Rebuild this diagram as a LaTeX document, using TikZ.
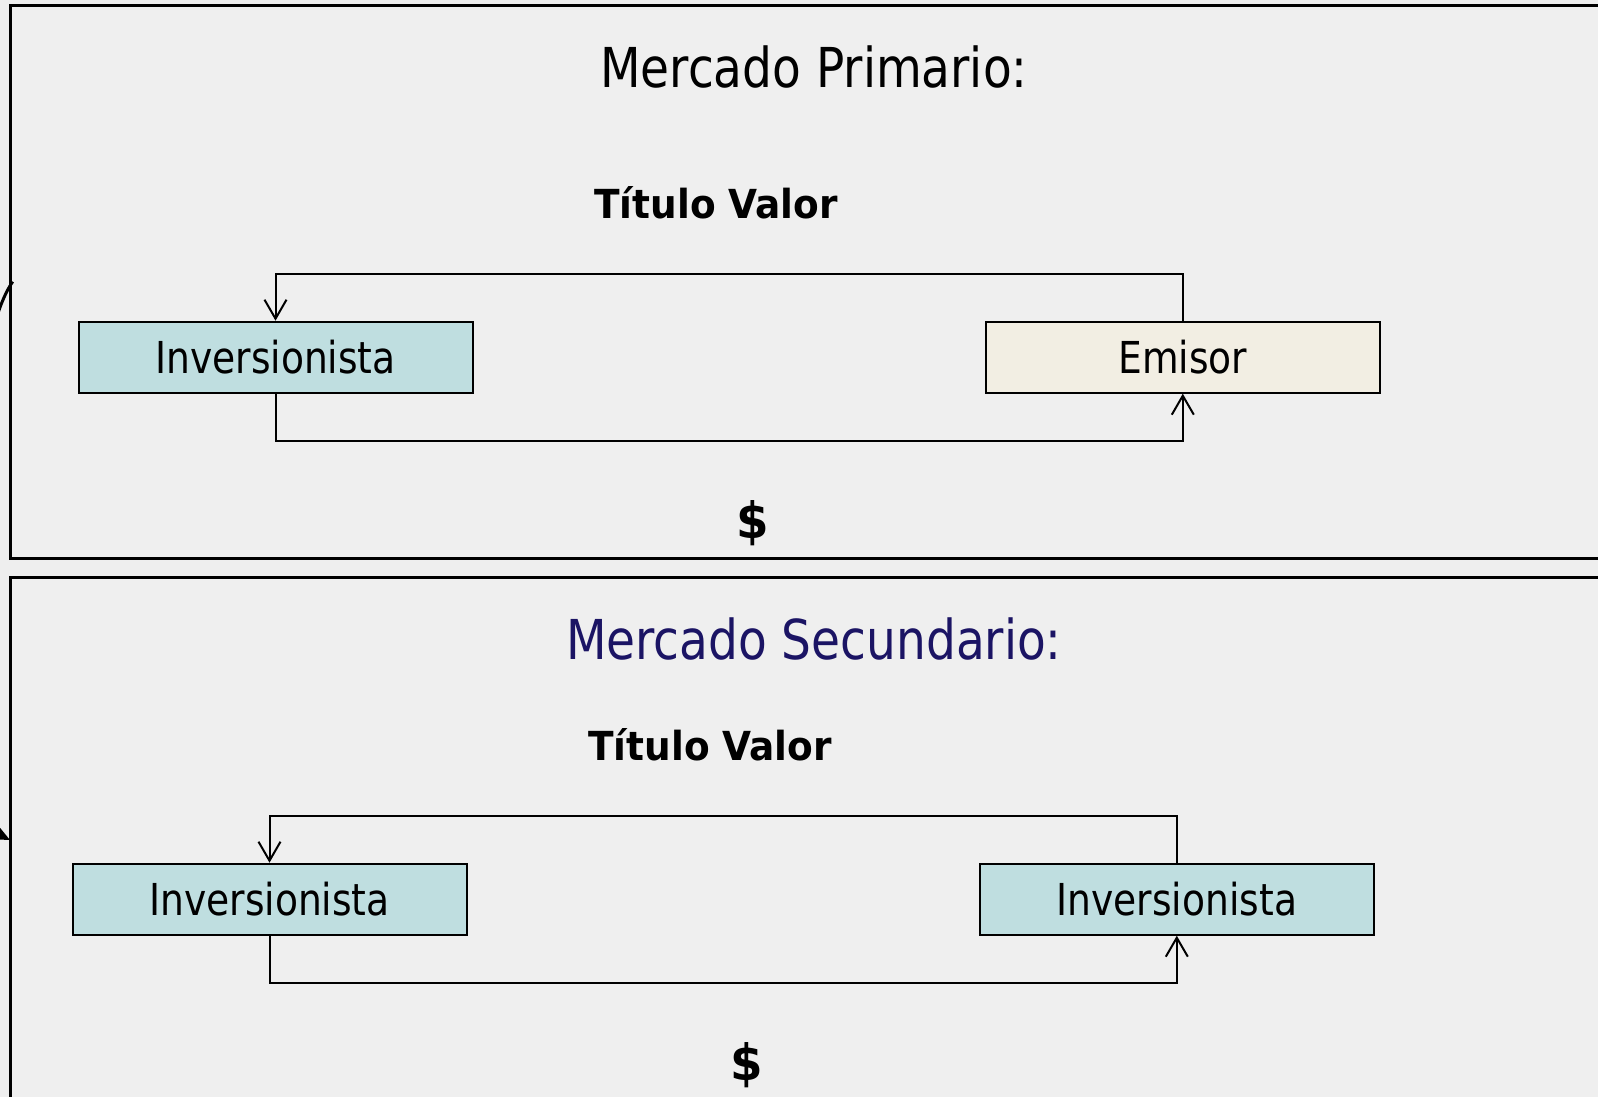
\documentclass[tikz,border=0pt]{standalone}
\usepackage{fontspec}
\setmainfont{DejaVu Sans Condensed}[FakeStretch=0.95, BoldFeatures={FakeStretch=1.04}]
\usetikzlibrary{arrows.meta}

\definecolor{pagegray}{HTML}{EEEEEE}
\definecolor{panelgray}{HTML}{EFEFEF}
\definecolor{investfill}{HTML}{BFDEE0}
\definecolor{issuerfill}{HTML}{F2EEE3}
\definecolor{navy}{HTML}{1B1464}

\tikzset{
  panel/.style={draw, line width=3pt, fill=panelgray},
  actor/.style={draw, line width=2pt, minimum width=394pt, minimum height=71pt,
    inner sep=0pt, font=\fontsize{44}{50}\selectfont},
  paneltitle/.style={anchor=base, font=\fontsize{55}{62}\selectfont},
  flowlabel/.style={anchor=base, font=\fontsize{40}{46}\selectfont\bfseries},
  flow/.style={line width=2pt, -{Straight Barb[length=19pt, width=22pt, line width=2pt]}},
}

\begin{document}
\begin{tikzpicture}[x=1pt, y=-1pt]
  \useasboundingbox (0,0) rectangle (1598,1097);
  \clip (0,0) rectangle (1598,1097);
  \fill [pagegray] (0,0) rectangle (1598,1097);

  % panels
  \draw [panel] (10.5,5.5) rectangle (1620,558.5);
  \draw [panel] (10.5,577.5) rectangle (1620,1120);

  % mercado primario
  \node [paneltitle] (t1) at (814,88) {Mercado Primario:};
  \node [flowlabel] (v1) at (716,218) {Título Valor};
  \node [actor, fill=investfill] (inv1) at (275.5,357.2) {Inversionista};
  \node [actor, fill=issuerfill] (emi) at (1182.8,357.2) {Emisor};
  \node [flowlabel, font=\fontsize{50}{56}\selectfont\bfseries] (d1) at (753,538) {\$};

  \draw [flow] (emi.north) -- ++(0,-47) -| (inv1.north);
  \draw [flow] (inv1.south) -- ++(0,47) -| (emi.south);

  % mercado secundario
  \node [paneltitle, text=navy] (t2) at (814,659) {Mercado Secundario:};
  \node [flowlabel] (v2) at (710,760) {Título Valor};
  \node [actor, fill=investfill] (inv2) at (269.5,899.2) {Inversionista};
  \node [actor, fill=investfill] (inv3) at (1176.8,899.2) {Inversionista};
  \node [flowlabel, font=\fontsize{50}{56}\selectfont\bfseries] (d2) at (747,1080) {\$};

  \draw [flow] (inv3.north) -- ++(0,-47) -| (inv2.north);
  \draw [flow] (inv2.south) -- ++(0,47) -| (inv3.south);

  % curved link between panels (mostly off the left edge)
  \coordinate (from) at (12.7,281.7);
  \coordinate (to) at (10,840);
  \draw [line width=3pt, -{Stealth[length=18pt, width=16pt]}]
    (from) .. controls (-40,355) and (-70,800) .. (to);
\end{tikzpicture}
\end{document}
